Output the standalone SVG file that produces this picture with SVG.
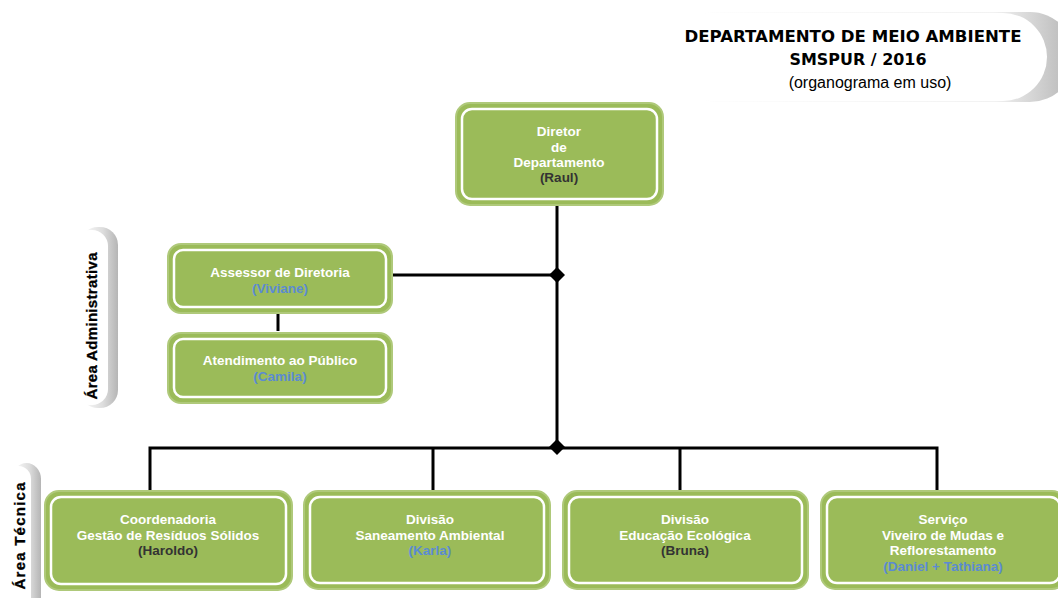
<svg xmlns="http://www.w3.org/2000/svg" width="1058" height="598" viewBox="0 0 1058 598">
  <style>
    .box { fill: #9BBB59; stroke: #AFC97A; stroke-width: 2; }
    .inner { fill: none; stroke: #FFFFFF; stroke-width: 2.5; }
    .t { font-family: "Liberation Sans", Arial, sans-serif; font-weight: bold; font-size: 13.5px; fill: #FFFFFF; text-anchor: middle; }
    .dk { fill: #333333; }
    .bl { fill: #5B8BD2; }
    .side { font-family: "Liberation Sans", Arial, sans-serif; font-weight: bold; font-size: 15px; fill: #000000; text-anchor: middle; stroke: #000000; stroke-width: 0.3; }
    .link { fill: none; stroke: #000000; stroke-width: 3; }
    .title { font-family: "DejaVu Sans", "Liberation Sans", sans-serif; font-weight: bold; font-size: 15.5px; fill: #000000; text-anchor: middle; }
  </style>
  <defs>
    <linearGradient id="shadeH" x1="0" y1="0" x2="1" y2="0">
      <stop offset="0" stop-color="#ffffff"/>
      <stop offset="0.6" stop-color="#dddddd"/>
      <stop offset="1" stop-color="#b5b5b5"/>
    </linearGradient>
    <linearGradient id="shadeBanner" x1="0" y1="0" x2="1" y2="0">
      <stop offset="0" stop-color="#ffffff"/>
      <stop offset="0.8" stop-color="#f2f2f2"/>
      <stop offset="0.95" stop-color="#c4c4c4"/>
      <stop offset="1" stop-color="#b5b5b5"/>
    </linearGradient>
    <path id="diamond" d="M0 -8 L8 0 L0 8 L-8 0 Z" fill="#000000"/>
  </defs>

  <rect width="1058" height="598" fill="#ffffff"/>

  <!-- title banner -->
  <g id="title">
    <rect x="672" y="12" width="403" height="90" rx="45" fill="url(#shadeBanner)"/>
    <rect x="668" y="13" width="379" height="88" rx="44" fill="#ffffff"/>
    <text class="title" x="853" y="42" textLength="337" lengthAdjust="spacingAndGlyphs">DEPARTAMENTO DE MEIO AMBIENTE</text>
    <text class="title" x="858" y="65" textLength="137" lengthAdjust="spacingAndGlyphs">SMSPUR / 2016</text>
    <text x="870" y="88" font-family="Liberation Sans, Arial, sans-serif" font-size="16" fill="#000000" text-anchor="middle">(organograma em uso)</text>
  </g>

  <!-- side labels -->
  <g id="area-administrativa">
    <rect x="80" y="227" width="38" height="181" rx="18" fill="url(#shadeH)"/>
    <rect x="74" y="230" width="34" height="175" rx="16" fill="#ffffff"/>
    <text class="side" transform="translate(97 326) rotate(-90)" textLength="147" lengthAdjust="spacing">Área Administrativa</text>
  </g>
  <g id="area-tecnica">
    <rect x="12" y="463" width="29" height="150" rx="16" fill="url(#shadeH)"/>
    <rect x="6" y="466" width="25" height="150" rx="13" fill="#ffffff"/>
    <text class="side" transform="translate(25 536) rotate(-90)" textLength="107" lengthAdjust="spacing">Área Técnica</text>
  </g>

  <!-- connectors -->
  <g id="connectors">
    <path class="link" d="M557 205 V447"/>
    <path class="link" d="M392 275 H557"/>
    <path class="link" d="M278 313 V331"/>
    <path class="link" d="M150 492 V448 H937 V492"/>
    <path class="link" d="M433 448 V492"/>
    <path class="link" d="M680 448 V492"/>
    <use href="#diamond" x="557" y="275"/>
    <use href="#diamond" x="557" y="447"/>
  </g>

  <!-- nodes -->
  <g id="diretor">
    <rect class="box" x="456" y="103" width="207" height="102" rx="14"/>
    <rect class="inner" x="462" y="109" width="195" height="90" rx="10"/>
    <text class="t" x="559" y="136">Diretor</text>
    <text class="t" x="559" y="152">de</text>
    <text class="t" x="559" y="167">Departamento</text>
    <text class="t dk" x="559" y="182">(Raul)</text>
  </g>

  <g id="assessor">
    <rect class="box" x="168" y="244" width="224" height="69" rx="13"/>
    <rect class="inner" x="174" y="250" width="212" height="57" rx="9"/>
    <text class="t" x="280" y="277">Assessor de Diretoria</text>
    <text class="t bl" x="280" y="293">(Viviane)</text>
  </g>

  <g id="atendimento">
    <rect class="box" x="168" y="333" width="224" height="70" rx="13"/>
    <rect class="inner" x="174" y="339" width="212" height="58" rx="9"/>
    <text class="t" x="280" y="365">Atendimento ao Público</text>
    <text class="t bl" x="280" y="381">(Camila)</text>
  </g>

  <g id="coordenadoria">
    <rect class="box" x="45" y="491" width="247" height="99" rx="14"/>
    <rect class="inner" x="51" y="497" width="235" height="87" rx="10"/>
    <text class="t" x="168" y="524">Coordenadoria</text>
    <text class="t" x="168" y="540">Gestão de Resíduos Sólidos</text>
    <text class="t dk" x="168" y="555">(Haroldo)</text>
  </g>

  <g id="saneamento">
    <rect class="box" x="304" y="491" width="246" height="98" rx="14"/>
    <rect class="inner" x="310" y="497" width="234" height="86" rx="10"/>
    <text class="t" x="430" y="524">Divisão</text>
    <text class="t" x="430" y="540">Saneamento Ambiental</text>
    <text class="t bl" x="430" y="555">(Karla)</text>
  </g>

  <g id="educacao">
    <rect class="box" x="563" y="491" width="245" height="98" rx="14"/>
    <rect class="inner" x="569" y="497" width="233" height="86" rx="10"/>
    <text class="t" x="685" y="524">Divisão</text>
    <text class="t" x="685" y="540">Educação Ecológica</text>
    <text class="t dk" x="685" y="555">(Bruna)</text>
  </g>

  <g id="viveiro">
    <rect class="box" x="821" y="491" width="245" height="98" rx="14"/>
    <rect class="inner" x="827" y="497" width="233" height="86" rx="10"/>
    <text class="t" x="943" y="524">Serviço</text>
    <text class="t" x="943" y="540">Viveiro de Mudas e</text>
    <text class="t" x="943" y="555">Reflorestamento</text>
    <text class="t bl" x="943" y="571">(Daniel + Tathiana)</text>
  </g>
</svg>
